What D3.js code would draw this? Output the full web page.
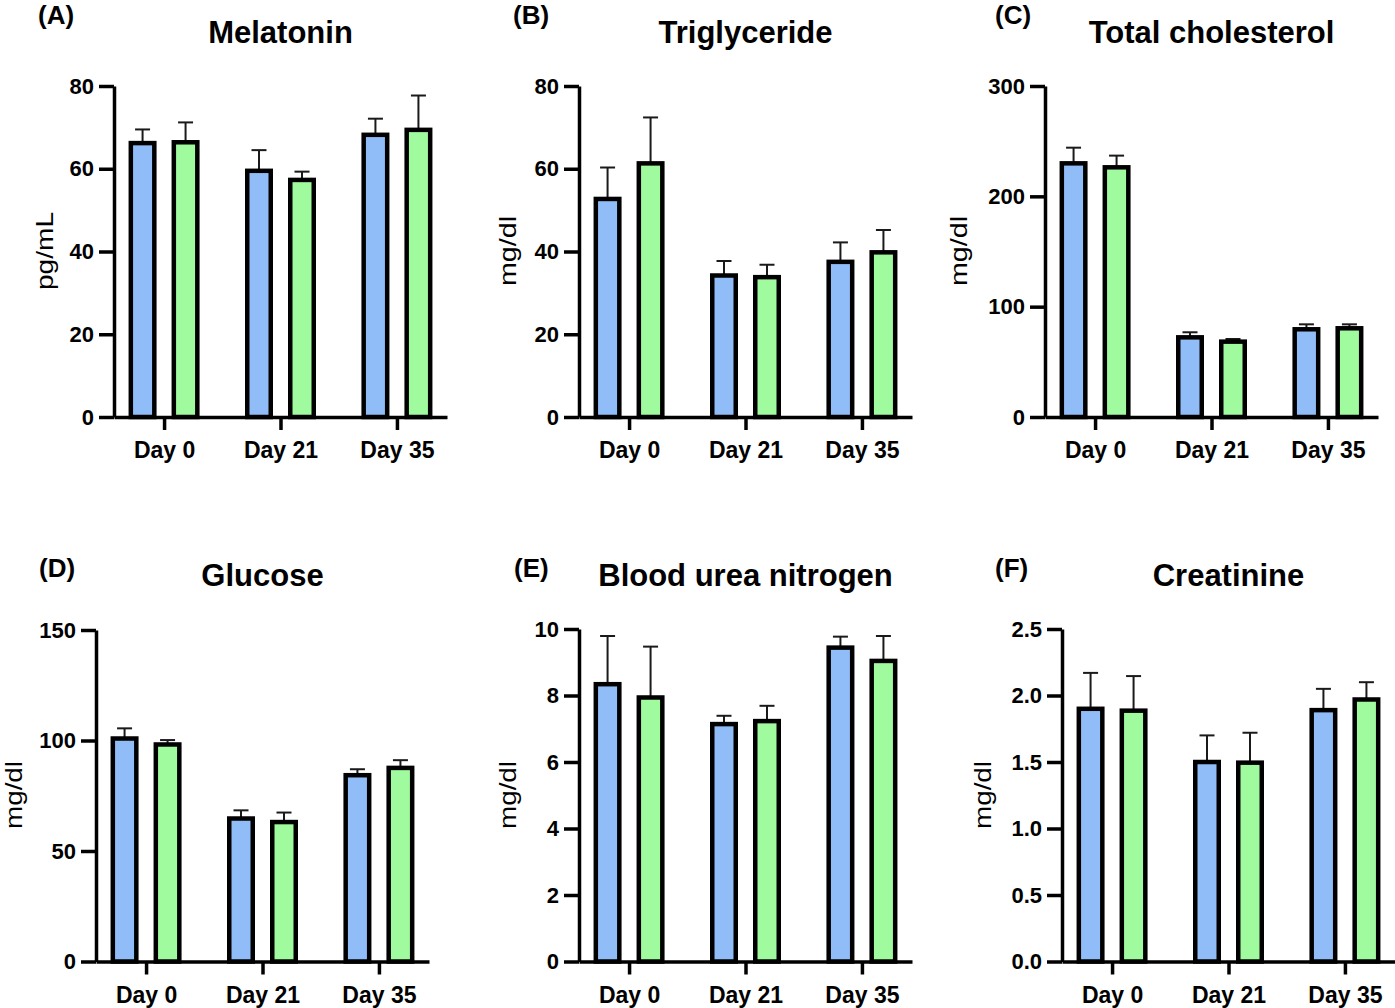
<!DOCTYPE html>
<html><head><meta charset="utf-8">
<script src="https://cdn.jsdelivr.net/npm/d3@7"></script>
<style>
body{margin:0;background:#fff}
svg{display:block}
text{font-family:"Liberation Sans",Arial,sans-serif;fill:#000}
</style>
</head><body>
<svg id="chart" width="1395" height="1008"></svg>
<script>
// ---------- data ----------
const categories = ["Day 0", "Day 21", "Day 35"];
const seriesNames = ["Group 1", "Group 2"];
const seriesColors = ["#90bdf8", "#a0fb9e"];

const panelLabels = ["(A)", "(B)", "(C)", "(D)", "(E)", "(F)"];
const panelTitles = ["Melatonin", "Triglyceride", "Total cholesterol", "Glucose", "Blood urea nitrogen", "Creatinine"];
const yAxisLabels = ["pg/mL", "mg/dl", "mg/dl", "mg/dl", "mg/dl", "mg/dl"];

const yTicksMelatonin = [0, 20, 40, 60, 80];
const yTicksTriglyceride = [0, 20, 40, 60, 80];
const yTicksCholesterol = [0, 100, 200, 300];
const yTicksGlucose = [0, 50, 100, 150];
const yTicksBUN = [0, 2, 4, 6, 8, 10];
const yTicksCreatinine = [0, 0.5, 1.0, 1.5, 2.0, 2.5];

const melatoninG1 = [66.2, 59.5, 68.2];
const melatoninG1Err = [3.3, 5.0, 3.9];
const melatoninG2 = [66.4, 57.3, 69.4];
const melatoninG2Err = [4.8, 2.0, 8.3];

const triglycerideG1 = [52.7, 34.2, 37.5];
const triglycerideG1Err = [7.6, 3.5, 4.7];
const triglycerideG2 = [61.3, 33.8, 39.8];
const triglycerideG2Err = [11.1, 3.0, 5.4];

const cholesterolG1 = [229.9, 72.2, 79.5];
const cholesterolG1Err = [14.2, 4.6, 4.5];
const cholesterolG2 = [226.3, 68.3, 80.4];
const cholesterolG2Err = [10.6, 2.4, 3.6];

const glucoseG1 = [100.9, 64.7, 84.3];
const glucoseG1Err = [4.6, 3.7, 2.7];
const glucoseG2 = [98.2, 63.1, 87.6];
const glucoseG2Err = [2.0, 4.3, 3.5];

const bunG1 = [8.34, 7.14, 9.44];
const bunG1Err = [1.45, 0.25, 0.33];
const bunG2 = [7.94, 7.23, 9.04];
const bunG2Err = [1.53, 0.46, 0.75];

const creatinineG1 = [1.90, 1.50, 1.89];
const creatinineG1Err = [0.27, 0.20, 0.16];
const creatinineG2 = [1.886, 1.495, 1.97];
const creatinineG2Err = [0.26, 0.225, 0.13];

// ---------- panel assembly ----------
const panels = [
  {ticks: yTicksMelatonin, fmt: d3.format("d"), means: [melatoninG1, melatoninG2], errs: [melatoninG1Err, melatoninG2Err]},
  {ticks: yTicksTriglyceride, fmt: d3.format("d"), means: [triglycerideG1, triglycerideG2], errs: [triglycerideG1Err, triglycerideG2Err]},
  {ticks: yTicksCholesterol, fmt: d3.format("d"), means: [cholesterolG1, cholesterolG2], errs: [cholesterolG1Err, cholesterolG2Err]},
  {ticks: yTicksGlucose, fmt: d3.format("d"), means: [glucoseG1, glucoseG2], errs: [glucoseG1Err, glucoseG2Err]},
  {ticks: yTicksBUN, fmt: d3.format("d"), means: [bunG1, bunG2], errs: [bunG1Err, bunG2Err]},
  {ticks: yTicksCreatinine, fmt: d3.format(".1f"), means: [creatinineG1, creatinineG2], errs: [creatinineG1Err, creatinineG2Err]}
];

// ---------- layout (positions only) ----------
const layout = [
  {ax: 114, top: 86, bottom: 417, labelX: 38, labelY: 24, titleY: 43, yLabX: 53, yLabY: 251, yLabLen: 78},
  {ax: 579, top: 86, bottom: 417, labelX: 513, labelY: 24, titleY: 43, yLabX: 516, yLabY: 251, yLabLen: 70},
  {ax: 1045, top: 86, bottom: 417, labelX: 995, labelY: 24, titleY: 43, yLabX: 967, yLabY: 251, yLabLen: 70},
  {ax: 96, top: 630, bottom: 961.5, labelX: 39, labelY: 577, titleY: 586, yLabX: 22, yLabY: 795, yLabLen: 68},
  {ax: 579, top: 629, bottom: 961.5, labelX: 514, labelY: 577, titleY: 586, yLabX: 516, yLabY: 795, yLabLen: 68},
  {ax: 1062, top: 629, bottom: 961.5, labelX: 995, labelY: 577, titleY: 586, yLabX: 991, yLabY: 795, yLabLen: 68}
];
const plotW = 333;
const barW = 23.5;
const barStroke = 4.5;
const capW = 15;

const svg = d3.select("#chart");

panels.forEach((p, i) => {
  const L = layout[i];
  const g = svg.append("g");

  const y = d3.scaleLinear().domain([0, p.ticks[p.ticks.length - 1]]).range([L.bottom, L.top]);
  const x0 = d3.scalePoint().domain(categories).range([L.ax, L.ax + plotW]).padding(0.43);
  const x1 = d3.scalePoint().domain(seriesNames).range([-21.5, 21.5]);

  const rows = [];
  categories.forEach((c, ci) => {
    seriesNames.forEach((s, si) => {
      rows.push({cat: c, s: s, si: si, mean: p.means[si][ci], err: p.errs[si][ci]});
    });
  });

  // error bars (above only)
  const eb = g.append("g").attr("stroke", "#1a1a1a").attr("stroke-width", 2).attr("fill", "none");
  eb.selectAll("line.v").data(rows).join("line").attr("class", "v")
    .attr("x1", d => x0(d.cat) + x1(d.s)).attr("x2", d => x0(d.cat) + x1(d.s))
    .attr("y1", d => y(d.mean)).attr("y2", d => y(d.mean + d.err));
  eb.selectAll("line.c").data(rows).join("line").attr("class", "c")
    .attr("x1", d => x0(d.cat) + x1(d.s) - capW / 2).attr("x2", d => x0(d.cat) + x1(d.s) + capW / 2)
    .attr("y1", d => y(d.mean + d.err)).attr("y2", d => y(d.mean + d.err));

  // bars
  g.append("g").selectAll("rect").data(rows).join("rect")
    .attr("x", d => x0(d.cat) + x1(d.s) - barW / 2)
    .attr("width", barW)
    .attr("y", d => y(d.mean))
    .attr("height", d => y(0) - y(d.mean))
    .attr("fill", d => seriesColors[d.si])
    .attr("stroke", "#000")
    .attr("stroke-width", barStroke);

  // y axis
  const ya = g.append("g").attr("transform", `translate(${L.ax},0)`)
    .call(d3.axisLeft(y).tickValues(p.ticks).tickFormat(p.fmt).tickSize(15).tickSizeOuter(0).tickPadding(5));
  // x axis
  const xa = g.append("g").attr("transform", `translate(0,${L.bottom})`)
    .call(d3.axisBottom(x0).tickSize(13).tickSizeOuter(0).tickPadding(12));

  [ya, xa].forEach(a => {
    a.select(".domain").attr("stroke", "#000").attr("stroke-width", 3.5);
    a.selectAll(".tick line").attr("stroke", "#000").attr("stroke-width", 3.5);
    a.selectAll(".tick text").attr("font-weight", "bold")
      .attr("font-family", '"Liberation Sans", Arial, sans-serif').attr("fill", "#000");
  });
  ya.selectAll(".tick text").attr("font-size", 22);
  xa.selectAll(".tick text").attr("font-size", 23).attr("dy", "0.71em");

  // titles & labels
  g.append("text").attr("x", L.ax + plotW / 2).attr("y", L.titleY)
    .attr("text-anchor", "middle").attr("font-size", 31).attr("font-weight", "bold")
    .text(panelTitles[i]);
  g.append("text").attr("x", L.labelX).attr("y", L.labelY)
    .attr("font-size", 26).attr("font-weight", "bold")
    .text(panelLabels[i]);
  g.append("text")
    .attr("transform", `translate(${L.yLabX},${L.yLabY}) rotate(-90)`)
    .attr("text-anchor", "middle").attr("font-size", 24)
    .attr("textLength", L.yLabLen).attr("lengthAdjust", "spacingAndGlyphs")
    .text(yAxisLabels[i]);
});
</script>
</body></html>
